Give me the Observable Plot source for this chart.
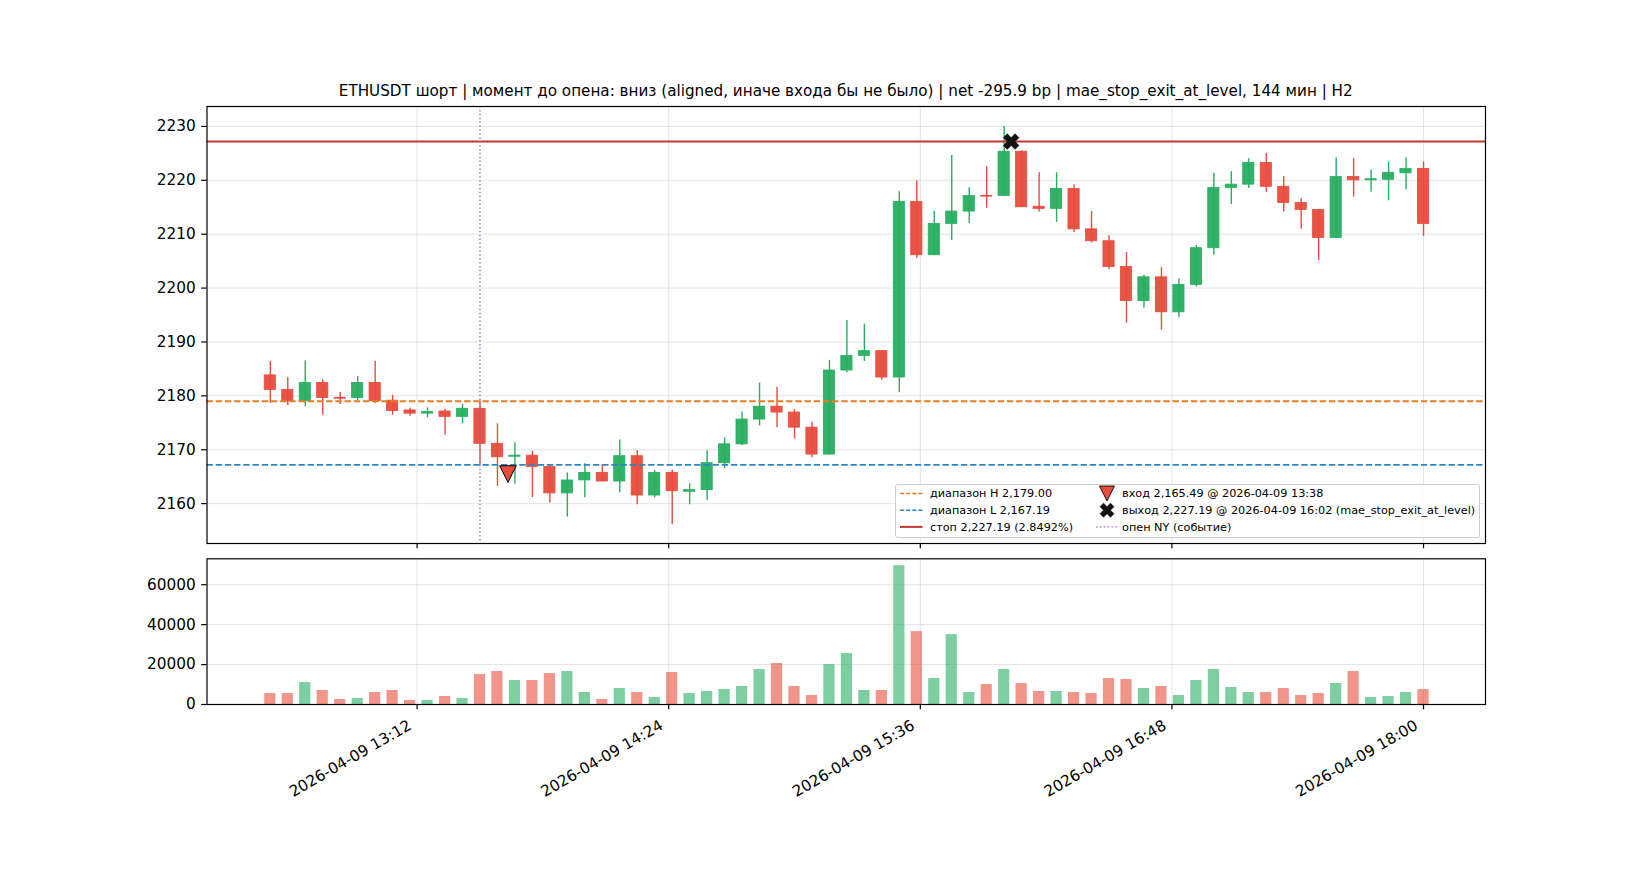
<!DOCTYPE html>
<html><head><meta charset="utf-8">
<script src="https://cdn.jsdelivr.net/npm/d3@7"></script>
<script src="https://cdn.jsdelivr.net/npm/@observablehq/plot@0.6"></script>
<style>
body{margin:0;background:#fff;font-family:"DejaVu Sans",sans-serif;}
#wrap{position:relative;width:1650px;height:880px;overflow:hidden;background:#fff;}
#title{position:absolute;left:206.5px;width:1278.5px;top:84px;text-align:center;font-size:15.2px;line-height:15px;white-space:nowrap;color:#000;}
#main{position:absolute;left:0;top:0;}
#vol{position:absolute;left:0;top:555px;}
#legend{position:absolute;left:895px;top:484px;width:585px;height:54px;box-sizing:border-box;border:1px solid #cccccc;border-radius:3px;background:rgba(255,255,255,0.85);}
#legend svg{position:absolute;left:0;top:0;}
</style></head>
<body><div id="wrap">
<div id="main"></div>
<div id="vol"></div>
<div id="title"></div>
<div id="legend"></div>
</div>
<script>
const DAY = "2026-04-09";
const titleText = "ETHUSDT шорт | момент до опена: вниз (aligned, иначе входа бы не было) | net -295.9 bp | mae_stop_exit_at_level, 144 мин | H2";

const times = ["12:30","12:35","12:40","12:45","12:50","12:55",
"13:00","13:05","13:10","13:15","13:20","13:25","13:30","13:35","13:40","13:45","13:50","13:55",
"14:00","14:05","14:10","14:15","14:20","14:25","14:30","14:35","14:40","14:45","14:50","14:55",
"15:00","15:05","15:10","15:15","15:20","15:25","15:30","15:35","15:40","15:45","15:50","15:55",
"16:00","16:05","16:10","16:15","16:20","16:25","16:30","16:35","16:40","16:45","16:50","16:55",
"17:00","17:05","17:10","17:15","17:20","17:25","17:30","17:35","17:40","17:45","17:50","17:55",
"18:00"];

const open = [2183.8,2181.1,2179.0,2182.4,2179.6,2179.6,2182.4,2179.1,2177.3,2176.7,
2177.1,2176.1,2177.6,2171.1,2168.7,2168.9,2166.8,2161.9,2164.3,2165.7,
2164.1,2168.8,2161.5,2165.7,2162.2,2162.5,2167.5,2171.0,2175.6,2178.0,
2176.9,2174.1,2169.1,2184.7,2187.4,2188.3,2183.4,2216.0,2206.1,2211.9,
2214.2,2217.1,2217.1,2225.3,2215.1,2214.7,2218.4,2210.9,2208.7,2203.9,
2197.6,2202.0,2195.5,2200.6,2207.4,2218.6,2219.2,2223.2,2218.8,2215.8,
2214.5,2209.3,2220.6,2220.0,2220.1,2221.3,2222.1];
const high = [2186.4,2183.4,2186.5,2183.0,2180.6,2183.6,2186.4,2180.1,2177.7,2177.8,
2177.5,2178.4,2179.1,2174.8,2171.3,2169.7,2167.1,2165.7,2167.4,2167.2,
2171.8,2169.8,2166.1,2166.2,2163.7,2169.8,2172.2,2177.0,2182.4,2181.6,
2177.4,2175.1,2186.6,2194.0,2193.3,2188.4,2217.9,2219.9,2214.2,2224.6,
2218.6,2222.5,2230.0,2225.5,2221.4,2221.4,2219.2,2214.2,2209.7,2206.6,
2202.4,2203.8,2201.7,2207.9,2221.3,2221.6,2224.0,2225.0,2220.7,2216.6,
2214.6,2224.2,2224.0,2221.9,2223.4,2224.2,2223.4];
const low = [2178.6,2178.2,2178.0,2176.4,2178.4,2179.1,2178.6,2176.4,2176.2,2175.9,
2172.7,2174.8,2167.1,2163.2,2163.6,2161.1,2160.1,2157.5,2161.1,2164.1,
2162.0,2159.8,2161.1,2156.1,2159.8,2160.6,2166.5,2170.8,2174.4,2174.1,
2172.0,2168.5,2169.0,2184.3,2186.4,2182.9,2180.6,2205.5,2206.0,2208.9,
2212.0,2214.8,2217.0,2215.0,2214.1,2212.2,2210.3,2208.4,2203.4,2193.5,
2196.3,2192.2,2194.5,2200.2,2206.1,2215.5,2218.5,2217.8,2214.1,2210.9,
2205.1,2209.2,2216.9,2217.8,2216.2,2218.2,2209.6];
const close = [2181.1,2179.0,2182.4,2179.6,2179.5,2182.4,2179.0,2177.2,2176.7,2177.0,
2176.1,2177.6,2171.1,2168.6,2168.9,2166.8,2161.9,2164.3,2165.7,2164.1,
2168.8,2161.5,2165.7,2162.3,2162.5,2167.5,2171.0,2175.6,2178.0,2176.9,
2174.1,2169.1,2184.7,2187.4,2188.3,2183.4,2216.0,2206.1,2211.9,2214.2,
2217.1,2217.0,2225.3,2215.0,2214.7,2218.4,2210.9,2208.7,2203.9,2197.6,
2202.0,2195.5,2200.6,2207.4,2218.6,2219.2,2223.2,2218.8,2215.8,2214.5,
2209.3,2220.6,2220.0,2220.2,2221.4,2222.1,2211.9];
const volume = [5500,5500,11000,7000,2500,3000,6000,7000,2000,2000,
4000,3000,15000,16500,12000,12000,15500,16500,6000,2500,
8000,6000,3500,16000,5500,6500,7500,9000,17500,20500,
9000,4500,20000,25500,7000,7000,69500,36500,13000,35000,
6000,10000,17500,10500,6500,6500,6000,5500,13000,12500,
8000,9000,4500,12000,17500,8500,6000,6000,8000,4500,
5500,10500,16500,3500,4000,6000,7500];

const priceTicks = [2160,2170,2180,2190,2200,2210,2220,2230];
const volumeTicks = [0,20000,40000,60000];
const timeTicks = ["13:12","14:24","15:36","16:48","18:00"];
const xDomainTimes = ["12:11:53","18:17:44"];
const priceDomain = [2152.6, 2233.7];
const volumeDomain = [0, 72975];

const rangeH = 2179.00, rangeL = 2167.19, stopPrice = 2227.19, stopPct = "2.8492%";
const entryPoint = {time:"13:38", price:2165.49};
const exitPoint = {time:"16:02", price:2227.19};
const nyOpen = "13:30";

const GREEN = "#27ae60", RED = "#e74c3c", ORANGE = "#e67e22", BLUE = "#2e86c1", STOPC = "#c0392b", PURPLE = "#a569bd";
const FONT = 15.3;

const toDate = t => new Date(`${DAY}T${t.length === 5 ? t + ":00" : t}Z`);
const candles = times.map((t, i) => ({t: toDate(t), o: open[i], h: high[i], l: low[i], c: close[i], v: volume[i], up: close[i] >= open[i]}));
const half = 96e3; // half candle width (ms)
const x1f = d => new Date(+d.t - half), x2f = d => new Date(+d.t + half);
const bodyLo = d => { const lo = Math.min(d.o, d.c), hi = Math.max(d.o, d.c); return hi - lo < 0.15 ? (lo + hi) / 2 - 0.075 : lo; };
const bodyHi = d => { const lo = Math.min(d.o, d.c), hi = Math.max(d.o, d.c); return hi - lo < 0.15 ? (lo + hi) / 2 + 0.075 : hi; };
const colorOf = d => d.up ? GREEN : RED;
const xTickDates = timeTicks.map(toDate);
const xDomain = xDomainTimes.map(toDate);
const fmtTime = d3.utcFormat("%Y-%m-%d %H:%M");

const triDown = {draw(ctx){ const a = 8.3; ctx.moveTo(-a, -a); ctx.lineTo(a, -a); ctx.lineTo(0, a); ctx.closePath(); }};
const xShape = {draw(ctx){
  const L = 8.2, w = 2.7, c = Math.SQRT1_2;
  const pts = [[w,L],[w,w],[L,w],[L,-w],[w,-w],[w,-L],[-w,-L],[-w,-w],[-L,-w],[-L,w],[-w,w],[-w,L]]
    .map(([x,y]) => [c*(x - y), c*(x + y)]);
  ctx.moveTo(pts[0][0], pts[0][1]);
  for (let i = 1; i < pts.length; i++) ctx.lineTo(pts[i][0], pts[i][1]);
  ctx.closePath();
}};

const gridStyle = {stroke: "#b0b0b0", strokeOpacity: 0.35, strokeWidth: 1};

const main = Plot.plot({
  width: 1650, height: 555,
  marginTop: 106, marginBottom: 12, marginLeft: 206.5, marginRight: 165,
  style: {fontFamily: "DejaVu Sans", fontSize: FONT + "px", color: "#000", background: "transparent"},
  x: {type: "utc", domain: xDomain, label: null},
  y: {domain: priceDomain, label: null},
  color: {type: "identity"},
  marks: [
    Plot.gridY(priceTicks, gridStyle),
    Plot.gridX(xTickDates, gridStyle),
    Plot.ruleX(candles, {x: "t", y1: "l", y2: "h", stroke: colorOf, strokeWidth: 1.4}),
    Plot.rect(candles, {x1: x1f, x2: x2f, y1: bodyLo, y2: bodyHi, fill: colorOf, fillOpacity: 0.95, stroke: colorOf, strokeWidth: 0.8}),
    Plot.ruleY([rangeH], {stroke: ORANGE, strokeWidth: 1.8, strokeDasharray: "6.4,2.8"}),
    Plot.ruleY([rangeL], {stroke: BLUE, strokeWidth: 1.8, strokeDasharray: "6.4,2.8"}),
    Plot.ruleY([stopPrice], {stroke: STOPC, strokeWidth: 2}),
    Plot.ruleX([toDate(nyOpen)], {stroke: PURPLE, strokeWidth: 1.4, strokeDasharray: "1.5,2.4"}),
    Plot.dot([entryPoint], {x: d => toDate(d.time), y: "price", symbol: triDown, r: 8, fill: RED, stroke: "black", strokeWidth: 1}),
    Plot.dot([exitPoint], {x: d => toDate(d.time), y: "price", symbol: xShape, r: 8, fill: "#111", stroke: "#111", strokeWidth: 0.8}),
    Plot.frame({stroke: "black", strokeWidth: 1.2}),
    Plot.axisY(priceTicks, {tickSize: 5.3, tickPadding: 6, tickFormat: d => String(d), fontSize: FONT, strokeWidth: 1.2, label: null}),
    Plot.axisX(xTickDates, {tickSize: 5.3, tickFormat: () => "", strokeWidth: 1.2, label: null})
  ]
});
document.getElementById("main").append(main);

const vol = Plot.plot({
  width: 1650, height: 325,
  marginTop: 3.3, marginBottom: 176, marginLeft: 206.5, marginRight: 165,
  style: {fontFamily: "DejaVu Sans", fontSize: FONT + "px", color: "#000", background: "transparent", overflow: "visible"},
  x: {type: "utc", domain: xDomain, label: null},
  y: {domain: volumeDomain, label: null},
  color: {type: "identity"},
  marks: [
    Plot.gridY(volumeTicks, gridStyle),
    Plot.gridX(xTickDates, gridStyle),
    Plot.rectY(candles, {x1: x1f, x2: x2f, y: "v", fill: colorOf, fillOpacity: 0.6}),
    Plot.frame({stroke: "black", strokeWidth: 1.2}),
    Plot.axisY(volumeTicks, {tickSize: 5.3, tickPadding: 6, tickFormat: d => String(d), fontSize: FONT, strokeWidth: 1.2, label: null}),
    Plot.axisX(xTickDates, {tickSize: 5.3, tickFormat: () => "", strokeWidth: 1.2, label: null}),
    Plot.text(xTickDates, {x: d => d, frameAnchor: "bottom", text: d => fmtTime(d), rotate: -30, textAnchor: "end", lineAnchor: "top", dx: -10, dy: 14.5, fontSize: FONT, fill: "#000"})
  ]
});
document.getElementById("vol").append(vol);

document.getElementById("title").textContent = titleText;

// legend
const fmt2 = d3.format(",.2f");
const lg = d3.select("#legend").append("svg").attr("width", 585).attr("height", 54)
  .style("font-family", "DejaVu Sans").style("font-size", "11.25px");
const rows = [8.5, 25.2, 41.9];
const col1 = [
  {label: `диапазон H ${fmt2(rangeH)}`, stroke: ORANGE, dash: "4.2,1.9", w: 1.6},
  {label: `диапазон L ${fmt2(rangeL)}`, stroke: BLUE, dash: "4.2,1.9", w: 1.6},
  {label: `стоп ${fmt2(stopPrice)} (${stopPct})`, stroke: STOPC, dash: null, w: 2}
];
col1.forEach((e, i) => {
  lg.append("line").attr("x1", 4).attr("x2", 26.5).attr("y1", rows[i]).attr("y2", rows[i])
    .attr("stroke", e.stroke).attr("stroke-width", e.w).attr("stroke-dasharray", e.dash);
  lg.append("text").attr("x", 34).attr("y", rows[i]).attr("dy", "0.35em").text(e.label);
});
const tri = d3.path(); triDown.draw(tri);
lg.append("path").attr("d", tri.toString()).attr("transform", `translate(211,${rows[0]}) scale(0.9)`)
  .attr("fill", RED).attr("stroke", "black").attr("stroke-width", 1);
lg.append("text").attr("x", 226).attr("y", rows[0]).attr("dy", "0.35em").text(`вход ${fmt2(entryPoint.price)} @ ${DAY} ${entryPoint.time}`);
const xp = d3.path(); xShape.draw(xp);
lg.append("path").attr("d", xp.toString()).attr("transform", `translate(211,${rows[1]}) scale(0.9)`)
  .attr("fill", "#111").attr("stroke", "#111").attr("stroke-width", 0.8);
lg.append("text").attr("x", 226).attr("y", rows[1]).attr("dy", "0.35em").text(`выход ${fmt2(exitPoint.price)} @ ${DAY} ${exitPoint.time} (mae_stop_exit_at_level)`);
lg.append("line").attr("x1", 200).attr("x2", 222.5).attr("y1", rows[2]).attr("y2", rows[2])
  .attr("stroke", PURPLE).attr("stroke-width", 1.4).attr("stroke-dasharray", "1.5,2.4");
lg.append("text").attr("x", 226).attr("y", rows[2]).attr("dy", "0.35em").text("опен NY (событие)");
</script>
</body></html>
